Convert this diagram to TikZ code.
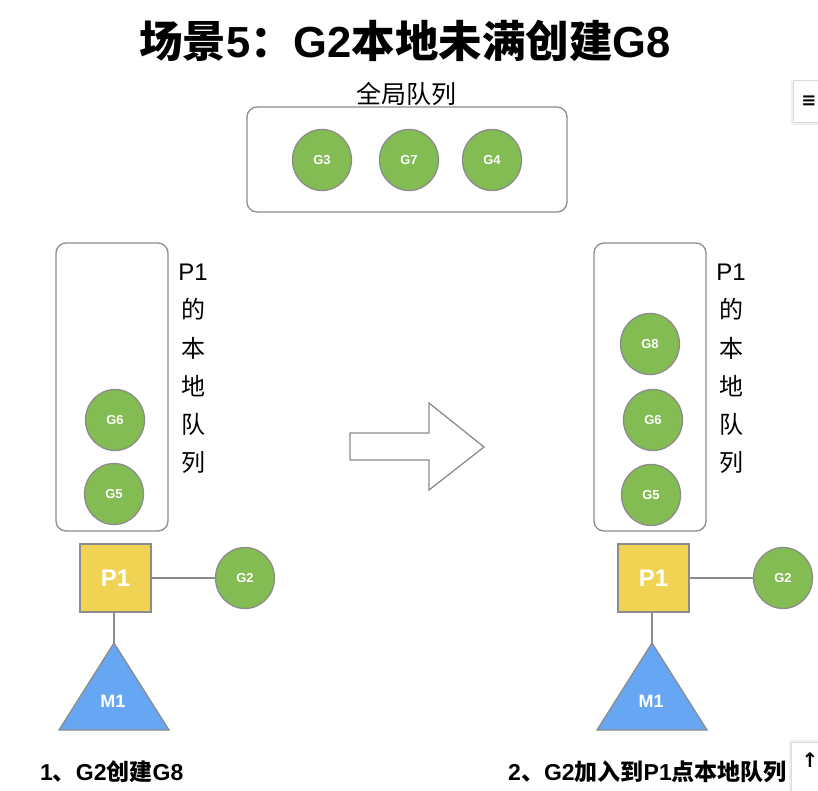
\documentclass[tikz,border=0pt]{standalone}
\usepackage{fontspec}
\setmainfont{Liberation Sans}
\newfontfamily\cjk{Noto Sans CJK SC}
\newfontfamily\symf{DejaVu Sans}
\usetikzlibrary{shapes.geometric}
\definecolor{ggreen}{HTML}{84BC54}
\definecolor{pyellow}{HTML}{F0D352}
\definecolor{mblue}{HTML}{66A6F2}
\definecolor{edge}{HTML}{8C8C8C}
\tikzset{
  gnode/.style={ellipse, draw=edge, line width=1.3pt, fill=ggreen, minimum width=59pt, minimum height=61pt, inner sep=0pt, text=white, font=\bfseries\fontsize{13}{13}\selectfont},
  pnode/.style={rectangle, draw=edge, line width=1.3pt, fill=pyellow, minimum width=71pt, minimum height=68pt, inner sep=0pt, text=white, font=\bfseries\fontsize{24}{24}\selectfont},
  qbox/.style={draw=edge, line width=1.3pt, rounded corners=10pt},
  link/.style={draw=edge, line width=1.3pt},
  tri/.style={draw=edge, line width=1.3pt, fill=mblue},
  vlabel/.style={align=center, font=\fontsize{24}{38.2}\selectfont, inner sep=0pt, anchor=north},
  caption/.style={font=\bfseries\fontsize{23}{23}\selectfont, inner sep=0pt},
  uibox/.style={draw=black!15, fill=white, line width=0.8pt}
}
\begin{document}
\begin{tikzpicture}[x=1pt,y=-1pt]
\useasboundingbox (0,0) rectangle (818,790);
% title
\node[font=\bfseries\fontsize{43.5}{43.5}\selectfont, inner sep=0pt] (title) at (405,41) {{\cjk 场景}5{\cjk ：}G2{\cjk 本地未满创建}G8};
% global queue
\node[font=\cjk\fontsize{25}{25}\selectfont, inner sep=0pt] (gqlabel) at (406,94) {全局队列};
\draw[qbox] (247,107) rectangle (567,212);
\node[gnode] (g3) at (322,160) {G3};
\node[gnode] (g7) at (409,160) {G7};
\node[gnode] (g4) at (492,160) {G4};
% left local queue
\draw[qbox] (56,243) rectangle (168,531);
\node[vlabel] (lq1) at (193,264) {P1\\{\cjk 的}\\{\cjk 本}\\{\cjk 地}\\{\cjk 队}\\{\cjk 列}};
\node[gnode] (g6a) at (115,420) {G6};
\node[gnode] (g5a) at (114,494) {G5};
\node[pnode] (p1a) at (115.5,578) {P1};
\node[gnode] (g2a) at (245,578) {G2};
\draw[link] (p1a.east) -- (g2a.west);
\coordinate (m1atop) at (114,643);
\draw[tri] (m1atop) -- (169,730) -- (59,730) -- cycle;
\node[text=white, font=\bfseries\fontsize{18}{18}\selectfont, inner sep=0pt] (m1a) at (113,701) {M1};
\draw[link] (m1atop |- p1a.south) -- (m1atop);
\node[caption, anchor=west] (cap1) at (40,772) {1{\cjk 、}G2{\cjk 创建}G8};
% arrow
\draw[draw=edge, line width=1.3pt, fill=white, line join=miter] (350,433) -- (429,433) -- (429,403) -- (484,447) -- (429,490) -- (429,460) -- (350,460) -- cycle;
% right local queue
\draw[qbox] (594,243) rectangle (706,531);
\node[vlabel] (lq2) at (731,264) {P1\\{\cjk 的}\\{\cjk 本}\\{\cjk 地}\\{\cjk 队}\\{\cjk 列}};
\node[gnode] (g8b) at (650,344) {G8};
\node[gnode] (g6b) at (653,420) {G6};
\node[gnode] (g5b) at (651,495) {G5};
\node[pnode] (p1b) at (653.5,578) {P1};
\node[gnode] (g2b) at (783,578) {G2};
\draw[link] (p1b.east) -- (g2b.west);
\coordinate (m1btop) at (652,643);
\draw[tri] (m1btop) -- (707,730) -- (597,730) -- cycle;
\node[text=white, font=\bfseries\fontsize{18}{18}\selectfont, inner sep=0pt] (m1b) at (651,701) {M1};
\draw[link] (m1btop |- p1b.south) -- (m1btop);
\node[caption, anchor=west] (cap2) at (508,772) {2{\cjk 、}G2{\cjk 加入到}P1{\cjk 点本地队列}};
% UI overlay buttons
\fill[black!6] (791,81) rectangle (820,125);
\draw[uibox] (793,80) rectangle (820,122);
\node[font=\symf\bfseries\fontsize{18}{18}\selectfont, inner sep=0pt] (menu) at (809,101) {≡};
\fill[black!6] (789,740) rectangle (820,792);
\draw[uibox] (791,742) rectangle (820,792);
\node[font=\symf\bfseries\fontsize{20}{20}\selectfont, inner sep=0pt] (up) at (810,760) {↑};
\end{tikzpicture}
\end{document}
